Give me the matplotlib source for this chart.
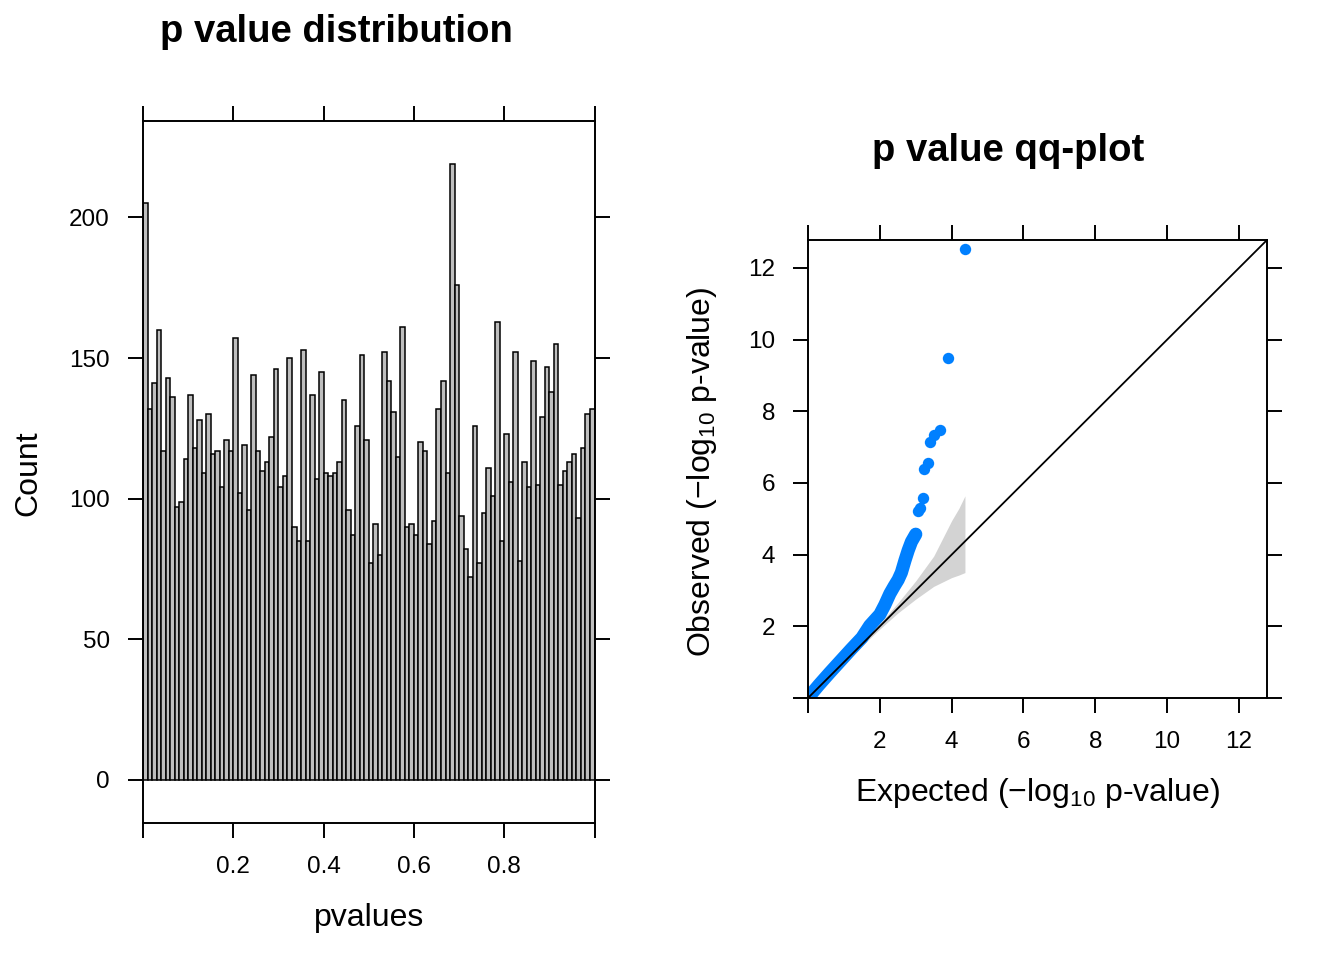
import matplotlib
matplotlib.use('Agg')
import matplotlib.pyplot as plt
import numpy as np

# ---------------- data ----------------
bin_width = 0.01
bin_left = [i * bin_width for i in range(100)]
counts = [205, 132, 141, 160, 117, 143, 136, 97, 99, 114,
          137, 118, 128, 109, 130, 116, 117, 104, 121, 117,
          157, 102, 119, 96, 144, 117, 110, 113, 122, 146,
          104, 108, 150, 90, 85, 153, 85, 137, 107, 145,
          109, 108, 109, 113, 135, 96, 87, 126, 151, 121,
          77, 91, 80, 152, 142, 131, 115, 161, 90, 91,
          87, 120, 117, 84, 92, 132, 142, 109, 219, 176,
          94, 82, 72, 126, 77, 95, 111, 101, 163, 85,
          123, 106, 152, 78, 113, 104, 149, 105, 129, 147,
          138, 155, 105, 110, 113, 116, 93, 118, 130, 132]

hist_xticks = [0.0, 0.2, 0.4, 0.6, 0.8, 1.0]
hist_xticklabels = ['', '0.2', '0.4', '0.6', '0.8', '']
hist_yticks = [0, 50, 100, 150, 200]

# QQ plot: isolated points (expected, observed)
outlier_expected = [4.37, 3.886, 3.67, 3.51, 3.40, 3.33, 3.24, 3.20, 3.12, 3.05]
outlier_observed = [12.53, 9.49, 7.47, 7.33, 7.15, 6.57, 6.38, 5.57, 5.29, 5.21]
# dense run of points
dense_expected = [0.0, 0.3, 0.6, 0.9, 1.2, 1.5, 1.72, 2.0, 2.14, 2.28, 2.4, 2.51, 2.6, 2.7, 2.79, 2.88, 3.0]
dense_observed = [0.0, 0.36, 0.70, 1.03, 1.36, 1.68, 2.02, 2.33, 2.60, 2.91, 3.12, 3.30, 3.50, 3.84, 4.12, 4.36, 4.57]
# confidence band
ci_expected = [0.0, 0.5, 1.0, 1.5, 2.0, 2.5, 3.0, 3.5, 4.0, 4.2, 4.37]
ci_lower = [0.0, 0.49, 0.965, 1.455, 1.925, 2.37, 2.76, 3.115, 3.36, 3.43, 3.50]
ci_upper = [0.0, 0.51, 1.035, 1.55, 2.08, 2.65, 3.27, 3.96, 4.95, 5.29, 5.64]

qq_ticks = [0, 2, 4, 6, 8, 10, 12]
qq_ticklabels = ['', '2', '4', '6', '8', '10', '12']
qq_lim = 12.78

# ---------------- style ----------------
plt.rcParams['font.family'] = ['Liberation Sans', 'DejaVu Sans']
plt.rcParams['mathtext.fontset'] = 'custom'
plt.rcParams['mathtext.rm'] = 'Liberation Sans'
plt.rcParams['mathtext.it'] = 'Liberation Sans:italic'
plt.rcParams['mathtext.bf'] = 'Liberation Sans:bold'

W, H = 1344, 960
fig = plt.figure(figsize=(W / 100, H / 100), dpi=100)

def frac(x0, y0, x1, y1):
    return [x0 / W, 1 - y1 / H, (x1 - x0) / W, (y1 - y0) / H]

TICK_FS = 17.5
LAB_FS = 23
TITLE_FS = 27.5
LW = 1.4

def style_axes(ax):
    for s in ax.spines.values():
        s.set_linewidth(LW)
        s.set_color('black')
    ax.tick_params(direction='out', length=10.8, width=LW, pad=13,
                   labelsize=TICK_FS, top=True, right=True,
                   labeltop=False, labelright=False, colors='black')

# ---------------- histogram ----------------
ax1 = fig.add_axes(frac(143, 121, 594.5, 823))
ax1.bar(bin_left, counts, width=bin_width, align='edge',
        color='#bebebe', edgecolor='black', linewidth=1.1)
ax1.set_xlim(0, 1)
ax1.set_ylim(-15.3, 234.3)
ax1.set_xticks(hist_xticks)
ax1.set_xticklabels(hist_xticklabels)
ax1.set_yticks(hist_yticks)
style_axes(ax1)

fig.text(336 / W, 1 - 32 / H, 'p value distribution', ha='center', va='center',
         fontsize=TITLE_FS, fontweight='bold')
fig.text(28 / W, 1 - 473 / H, 'Count', ha='center', va='center',
         fontsize=LAB_FS, rotation=90)
fig.text(369 / W, 1 - 918 / H, 'pvalues', ha='center', va='center',
         fontsize=LAB_FS)

# ---------------- QQ plot ----------------
ax2 = fig.add_axes(frac(808, 240, 1267, 698))
ax2.fill_between(ci_expected, ci_lower, ci_upper, color='#d3d3d3',
                 linewidth=0, zorder=1)
ax2.plot(dense_expected, dense_observed, color='#0080ff', lw=9.5,
         solid_capstyle='round', solid_joinstyle='round', zorder=2)
ax2.plot(outlier_expected, outlier_observed, 'o', color='#0080ff',
         markersize=8.2, markeredgewidth=0, zorder=2)
ax2.axline((0, 0), slope=1, color='black', lw=1.3, zorder=3)
ax2.set_xlim(0, qq_lim)
ax2.set_ylim(0, qq_lim)
ax2.set_xticks(qq_ticks)
ax2.set_xticklabels(qq_ticklabels)
ax2.set_yticks(qq_ticks)
ax2.set_yticklabels(qq_ticklabels)
style_axes(ax2)

fig.text(1008 / W, 1 - 151 / H, 'p value qq-plot', ha='center', va='center',
         fontsize=TITLE_FS, fontweight='bold')
fig.text(1037.5 / W, 1 - 793 / H, r'Expected ($-\mathrm{log}_{10}$ p-value)',
         ha='center', va='center', fontsize=LAB_FS)
fig.text(702 / W, 1 - 472 / H, r'Observed ($-\mathrm{log}_{10}$ p-value)',
         ha='center', va='center', fontsize=LAB_FS, rotation=90)

fig.savefig('out.png', dpi=100, facecolor='white')
